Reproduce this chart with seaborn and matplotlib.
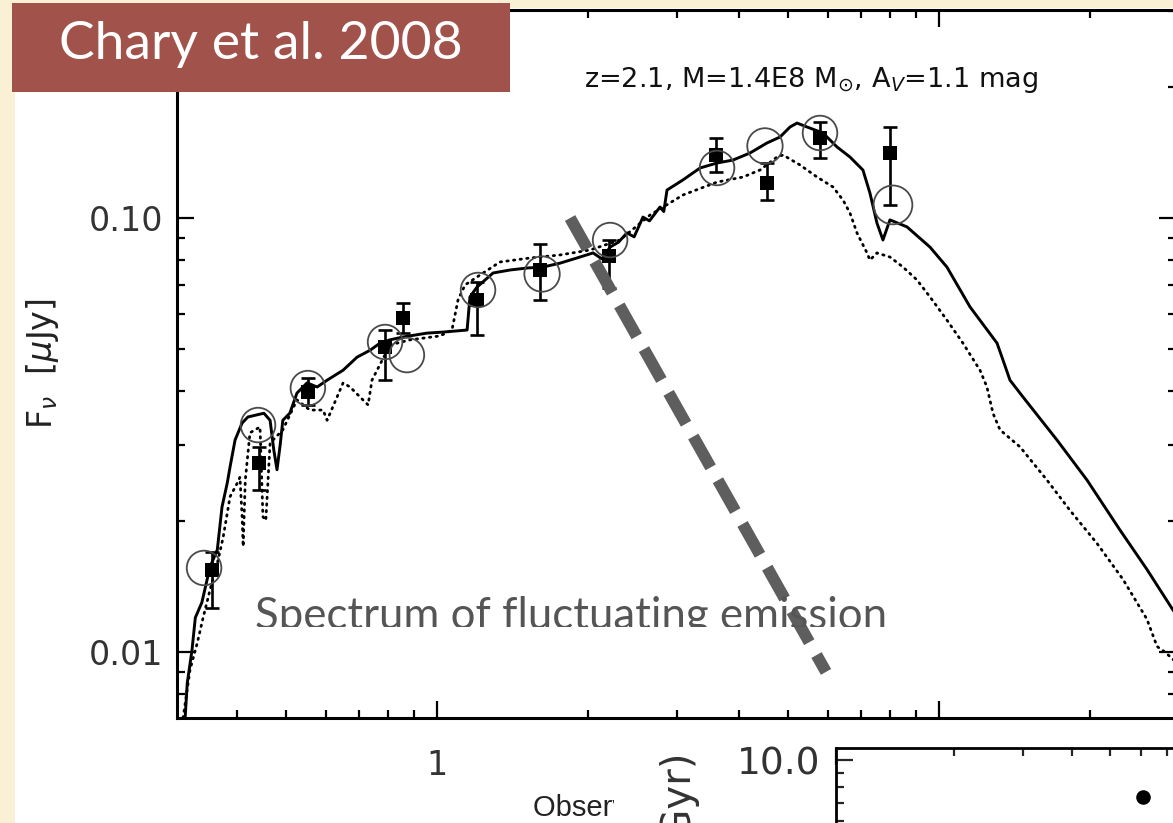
import matplotlib
matplotlib.use("Agg")
import matplotlib.pyplot as plt
from matplotlib.patches import Rectangle
from matplotlib.ticker import FixedLocator, FixedFormatter, LogLocator, NullFormatter
import seaborn as sns

# ---- model SED: solid (best fit) -------------------------------------------
solid_wl = [0.315, 0.318, 0.325, 0.330, 0.340, 0.353, 0.365, 0.373, 0.382, 0.387,
            0.396, 0.409, 0.420, 0.438, 0.452, 0.465, 0.473, 0.480, 0.487, 0.493,
            0.509, 0.526, 0.551, 0.577, 0.604, 0.650, 0.693, 0.736, 0.770, 0.806,
            0.856, 0.955, 1.028, 1.148, 1.163, 1.201, 1.293, 1.398, 1.511, 1.626,
            1.758, 1.900, 2.046, 2.13, 2.212, 2.30, 2.390, 2.47, 2.572, 2.65,
            2.781, 2.83, 2.872, 3.090, 3.342, 3.613, 3.887, 4.203, 4.543, 4.824,
            5.050, 5.215, 5.458, 5.873, 6.264, 6.648, 7.055, 7.285, 7.523, 7.733,
            7.986, 8.636, 9.596, 10.37, 11.53, 13.05, 13.41, 13.85, 14.70, 17.18,
            19.72, 22.94, 25.96, 29.25, 30.2]
solid_flux = [0.00708, 0.00848, 0.0101, 0.0120, 0.0130, 0.0157, 0.0172, 0.0216, 0.0245, 0.0267,
              0.0308, 0.0337, 0.0348, 0.0352, 0.0355, 0.0342, 0.0292, 0.0263, 0.0300, 0.0342,
              0.0355, 0.0395, 0.0417, 0.0408, 0.0423, 0.0446, 0.0478, 0.0496, 0.0515, 0.0524,
              0.0532, 0.0543, 0.0546, 0.0552, 0.0658, 0.0693, 0.0747, 0.0759, 0.0767, 0.0771,
              0.0787, 0.0809, 0.0831, 0.0805, 0.0857, 0.0880, 0.0924, 0.0905, 0.1005, 0.0985,
              0.1060, 0.1035, 0.1160, 0.1224, 0.1304, 0.1339, 0.1360, 0.1412, 0.1489, 0.1537,
              0.1621, 0.1655, 0.1621, 0.1570, 0.1458, 0.1382, 0.1290, 0.1142, 0.0974, 0.0890,
              0.0990, 0.0954, 0.0857, 0.0771, 0.0624, 0.0515, 0.0471, 0.0423, 0.0387, 0.0308,
              0.0249, 0.0191, 0.0155, 0.0125, 0.0119]

# ---- model SED: dotted (alternative fit) -----------------------------------
dot_wl = [0.312, 0.322, 0.333, 0.342, 0.353, 0.365, 0.375, 0.387, 0.400, 0.405,
          0.409, 0.411, 0.415, 0.424, 0.444, 0.450, 0.456, 0.465, 0.493, 0.526,
          0.558, 0.593, 0.604, 0.650, 0.671, 0.712, 0.729, 0.742, 0.806, 0.884,
          1.014, 1.071, 1.101, 1.137, 1.218, 1.335, 1.532, 1.758, 2.018, 2.314,
          2.657, 3.090, 3.613, 4.070, 4.400, 4.757, 4.890, 5.286, 5.715, 6.150,
          6.439, 6.648, 6.865, 7.188, 7.285, 7.523, 7.986, 8.478, 9.040, 9.596,
          10.37, 11.16, 12.07, 12.46, 12.81, 13.23, 14.50, 16.41, 18.24, 20.64,
          23.26, 25.96, 27.19, 28.20, 30.2]
dot_flux = [0.00705, 0.00909, 0.0105, 0.0120, 0.0139, 0.0160, 0.0184, 0.0228, 0.0245, 0.0253,
            0.0205, 0.0175, 0.0249, 0.0320, 0.0330, 0.0205, 0.0201, 0.0303, 0.0325, 0.0381,
            0.0361, 0.0361, 0.0342, 0.0417, 0.0408, 0.0381, 0.0371, 0.0423, 0.0510, 0.0524,
            0.0535, 0.0552, 0.0647, 0.0701, 0.0739, 0.0792, 0.0809, 0.0822, 0.0844, 0.0890,
            0.1016, 0.1130, 0.1210, 0.1243, 0.1290, 0.1382, 0.1397, 0.1325, 0.1243, 0.1179,
            0.1100, 0.1027, 0.0924, 0.0831, 0.0800, 0.0831, 0.0813, 0.0771, 0.0720, 0.0658,
            0.0582, 0.0515, 0.0446, 0.0408, 0.0355, 0.0325, 0.0297, 0.0249, 0.0212, 0.0178,
            0.0147, 0.0119, 0.0103, 0.0100, 0.0093]

# ---- observed photometry (filled squares) -----------------------------------
obs_wl = [0.356, 0.442, 0.553, 0.788, 0.856, 1.201, 1.604, 2.201, 3.596, 4.543, 5.794, 7.986]
obs_flux = [0.01545, 0.02726, 0.03972, 0.05044, 0.05884, 0.06473, 0.07587, 0.08173,
            0.1397, 0.1204, 0.1529, 0.1412]
obs_err_lo = [0.00282, 0.00364, 0.00264, 0.00811, 0.00451, 0.01099, 0.01114, 0.01274,
              0.0121, 0.0104, 0.0154, 0.0340]
obs_err_hi = [0.00155, 0.00241, 0.00308, 0.00476, 0.00484, 0.00648, 0.01125, 0.00724,
              0.0132, 0.0135, 0.0135, 0.0209]

# ---- model photometry (open circles) ----------------------------------------
mod_wl = [0.3435, 0.440, 0.553, 0.788, 0.871, 1.207, 1.619, 2.212, 3.613, 4.501, 5.794, 8.097]
mod_flux = [0.01562, 0.03334, 0.04057, 0.05180, 0.04833, 0.06826, 0.07430, 0.08897,
            0.1304, 0.1466, 0.1570, 0.1072]
mod_size = [620, 620, 620, 620, 620, 620, 650, 620, 620, 650, 620, 780]

# ---- overlay: slope of the fluctuating emission spectrum --------------------
fluct_wl = [1.841, 5.956]
fluct_flux = [0.100, 0.0090]

# ---- inset --------------------------------------------------------------------
inset_x = [6.08]
inset_y = [7.35]

W, H = 1173, 823
fig = plt.figure(figsize=(W / 100, H / 100), dpi=100)
sns.set_theme(style="ticks")
plt.rcParams['font.family'] = ['DejaVu Sans']
plt.rcParams['mathtext.fontset'] = 'dejavusans'
fig.patch.set_facecolor('#f9f0d6')


def fx(px):
    return px / W


def fy(py):
    return 1 - py / H


# white page carrying the figure
fig.add_artist(Rectangle((fx(15), 0), 1 - fx(15), fy(8), transform=fig.transFigure,
                         facecolor='white', edgecolor='none', zorder=-5))

ax = fig.add_axes([fx(177), fy(718), fx(1176) - fx(177), fy(10) - fy(718)])
ax.set_zorder(1)
ax.set_facecolor('white')
ax.set_xscale('log')
ax.set_yscale('log')
ax.set_xlim(0.3034, 29.66)
ax.set_ylim(0.007047, 0.3015)

sns.lineplot(x=dot_wl, y=dot_flux, ax=ax, color='black', lw=2.0, sort=False,
             estimator=None, linestyle=(0, (0.5, 1.9)), dash_capstyle='round')
sns.lineplot(x=solid_wl, y=solid_flux, ax=ax, color='black', lw=2.1, sort=False,
             estimator=None)
ax.errorbar(obs_wl, obs_flux, yerr=[obs_err_lo, obs_err_hi], fmt='none',
            ecolor='black', elinewidth=1.9, capsize=5, capthick=1.9, zorder=4)
sns.scatterplot(x=obs_wl, y=obs_flux, ax=ax, marker='s', s=110, color='black',
                edgecolor='black', linewidth=0, zorder=5)
sns.scatterplot(x=mod_wl, y=mod_flux, ax=ax, marker='o', size=mod_size,
                sizes=(620, 780), facecolor='none', edgecolor='#4a4a4a',
                linewidth=1.3, zorder=6, legend=False)

ax.plot(fluct_wl, fluct_flux, color='#5e5e5e', lw=8.5, dashes=(3.0, 1.25),
        dash_capstyle='butt', solid_capstyle='butt', zorder=9)

ax.xaxis.set_major_locator(FixedLocator([1, 10]))
ax.xaxis.set_major_formatter(FixedFormatter(['1', '10']))
ax.xaxis.set_minor_locator(LogLocator(base=10, subs=range(2, 10), numticks=20))
ax.xaxis.set_minor_formatter(NullFormatter())
ax.yaxis.set_major_locator(FixedLocator([0.01, 0.1]))
ax.yaxis.set_major_formatter(FixedFormatter(['0.01', '0.10']))
ax.yaxis.set_minor_locator(LogLocator(base=10, subs=range(2, 10), numticks=20))
ax.yaxis.set_minor_formatter(NullFormatter())

ax.tick_params(which='both', direction='in', top=True, right=True, width=1.6,
               color='black')
ax.tick_params(which='major', length=12)
ax.tick_params(which='minor', length=6)
ax.tick_params(axis='x', which='major', pad=22, labelsize=24, labelcolor='#333333')
ax.tick_params(axis='y', which='major', pad=10, labelsize=24, labelcolor='#333333')
for s in ax.spines.values():
    s.set_linewidth(2.2)
    s.set_color('black')

ax.set_ylabel("F$_{\\nu}$  [$\\mu$Jy]", fontsize=24, labelpad=20, color='#222222')
ax.set_xlabel("Observed Wavelength", fontsize=21, labelpad=9, color='#222222',
              family='Liberation Sans')

fig.text(fx(811), fy(80), "z=2.1, M=1.4E8 M$_{\\odot}$, A$_V$=1.1 mag",
         fontsize=19.5, ha='center', va='center', color='#111111', zorder=4)

# white backing of the inset panel
fig.add_artist(Rectangle((fx(614), 0), 1 - fx(614), fy(735), transform=fig.transFigure,
                         facecolor='white', edgecolor='none', zorder=2))

ax2 = fig.add_axes([fx(836), fy(1000), fx(1400) - fx(836), fy(748) - fy(1000)])
ax2.set_zorder(3)
ax2.set_facecolor('white')
ax2.set_xscale('log')
ax2.set_yscale('log')
ax2.set_xlim(1, 27.5)
ax2.set_ylim(1.341, 11.06)
sns.scatterplot(x=inset_x, y=inset_y, ax=ax2, s=110, color='black', linewidth=0)
ax2.yaxis.set_major_locator(FixedLocator([10]))
ax2.yaxis.set_major_formatter(FixedFormatter(['10.0']))
ax2.yaxis.set_minor_locator(LogLocator(base=10, subs=range(2, 10), numticks=20))
ax2.yaxis.set_minor_formatter(NullFormatter())
ax2.xaxis.set_major_locator(FixedLocator([1, 10]))
ax2.xaxis.set_minor_locator(LogLocator(base=10, subs=range(2, 10), numticks=20))
ax2.xaxis.set_minor_formatter(NullFormatter())
ax2.tick_params(which='both', direction='in', top=True, right=True, width=1.6,
                labelbottom=False)
ax2.tick_params(which='major', length=12)
ax2.tick_params(which='minor', length=6)
ax2.tick_params(axis='y', which='major', pad=11, labelsize=27, labelcolor='#333333')
for s in ax2.spines.values():
    s.set_linewidth(2.0)
    s.set_color('black')
ax2.text(-0.2766, 0.984, "Age (Gyr)", rotation=90, ha='center', va='top',
         transform=ax2.transAxes, fontsize=29, color='#333333', clip_on=False)

# slide overlays
note = fig.text(fx(255), fy(629), "Spectrum of fluctuating emission", fontsize=31.5,
                family='Lato', color='#555555', ha='left', va='baseline', zorder=8)
note.set_clip_path(Rectangle((0, fy(627)), 1, 1, transform=fig.transFigure))

fig.add_artist(Rectangle((fx(12), fy(92)), fx(510) - fx(12), fy(3) - fy(92),
                         transform=fig.transFigure, facecolor='#a1534b',
                         edgecolor='none', zorder=10))
fig.text(fx(261), fy(45), "Chary et al. 2008", fontsize=38.5, family='Lato',
         color='white', ha='center', va='center', zorder=11)

fig.savefig("out.png", dpi=100, facecolor=fig.get_facecolor())
